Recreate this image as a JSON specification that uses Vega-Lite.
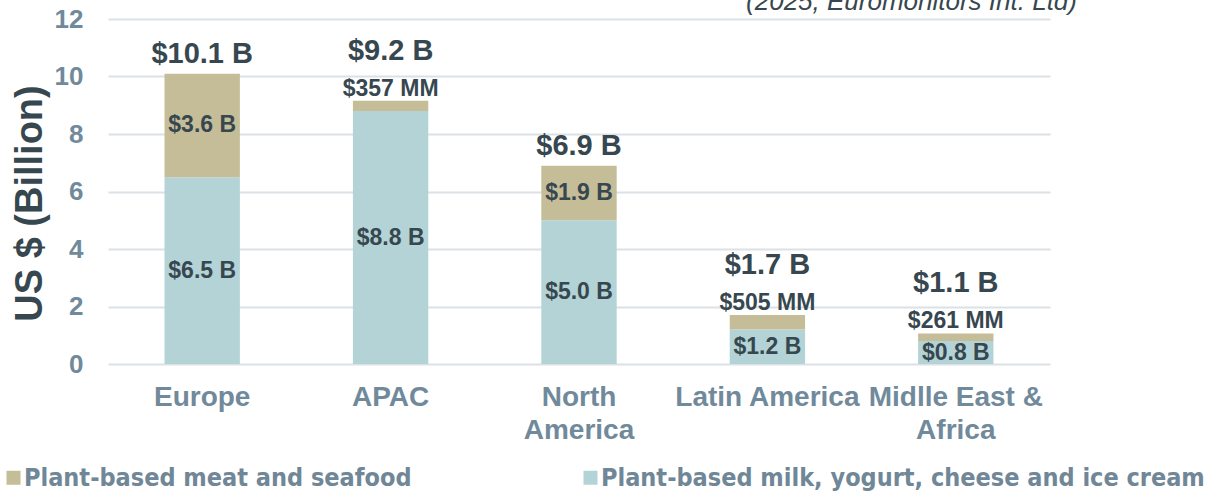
{
  "$schema": "https://vega.github.io/schema/vega-lite/v6.json",
  "autosize": {"type": "none"},
  "width": 942,
  "height": 345,
  "padding": {"left": 108, "top": 19, "right": 157, "bottom": 131},
  "background": "white",
  "title": {
    "text": "(2025, Euromonitors Int. Ltd)",
    "anchor": "end",
    "frame": "group",
    "orient": "top",
    "font": "Liberation Sans",
    "fontSize": 26,
    "fontStyle": "italic",
    "fontWeight": "normal",
    "color": "#37474F",
    "baseline": "alphabetic",
    "offset": 0,
    "dx": 27,
    "dy": 30
  },
  "data": {
    "values": [
      {"region": "Europe", "category": "Plant-based milk, yogurt, cheese and ice cream", "value": 6.5, "label": "$6.5 B", "total": "$10.1 B"},
      {"region": "Europe", "category": "Plant-based meat and seafood", "value": 3.6, "label": "$3.6 B", "total": "$10.1 B"},
      {"region": "APAC", "category": "Plant-based milk, yogurt, cheese and ice cream", "value": 8.8, "label": "$8.8 B", "total": "$9.2 B"},
      {"region": "APAC", "category": "Plant-based meat and seafood", "value": 0.357, "label": "$357 MM", "total": "$9.2 B"},
      {"region": "North America", "category": "Plant-based milk, yogurt, cheese and ice cream", "value": 5.0, "label": "$5.0 B", "total": "$6.9 B"},
      {"region": "North America", "category": "Plant-based meat and seafood", "value": 1.9, "label": "$1.9 B", "total": "$6.9 B"},
      {"region": "Latin America", "category": "Plant-based milk, yogurt, cheese and ice cream", "value": 1.2, "label": "$1.2 B", "total": "$1.7 B"},
      {"region": "Latin America", "category": "Plant-based meat and seafood", "value": 0.505, "label": "$505 MM", "total": "$1.7 B"},
      {"region": "Midlle East & Africa", "category": "Plant-based milk, yogurt, cheese and ice cream", "value": 0.8, "label": "$0.8 B", "total": "$1.1 B"},
      {"region": "Midlle East & Africa", "category": "Plant-based meat and seafood", "value": 0.261, "label": "$261 MM", "total": "$1.1 B"}
    ]
  },
  "encoding": {
    "x": {
      "field": "region",
      "type": "nominal",
      "sort": null,
      "scale": {"paddingInner": 0.6, "paddingOuter": 0.3},
      "axis": {
        "title": null,
        "labelAngle": 0,
        "domain": false,
        "ticks": false,
        "labelFont": "Liberation Sans",
        "labelFontSize": 28,
        "labelFontWeight": "bold",
        "labelColor": "#718A9B",
        "labelPadding": 19,
        "labelBaseline": "top",
        "labelLineHeight": 33,
        "labelLimit": 0,
        "labelExpr": "datum.label == 'North America' ? ['North', 'America'] : datum.label == 'Midlle East & Africa' ? ['Midlle East &', 'Africa'] : datum.label"
      }
    }
  },
  "layer": [
    {
      "mark": {"type": "bar"},
      "encoding": {
        "y": {
          "field": "value",
          "type": "quantitative",
          "aggregate": "sum",
          "stack": "zero",
          "scale": {"domain": [0, 12], "nice": false},
          "axis": {
            "title": "US $ (Billion)",
            "titleFont": "Liberation Sans",
            "titleFontSize": 38,
            "titleFontWeight": "bold",
            "titleColor": "#37474F",
            "titlePadding": 5,
            "titleY": 184,
            "values": [0, 2, 4, 6, 8, 10, 12],
            "domain": false,
            "ticks": false,
            "grid": true,
            "gridColor": "#DCE1E6",
            "gridWidth": 2,
            "labelFont": "Liberation Sans",
            "labelFontSize": 26,
            "labelFontWeight": "bold",
            "labelColor": "#718A9B",
            "labelPadding": 25
          }
        },
        "color": {
          "field": "category",
          "type": "nominal",
          "scale": {
            "domain": ["Plant-based meat and seafood", "Plant-based milk, yogurt, cheese and ice cream"],
            "range": ["#C5BD98", "#B3D3D6"]
          },
          "legend": {
            "title": null,
            "orient": "none",
            "direction": "horizontal",
            "legendX": -107,
            "legendY": 446,
            "symbolType": "square",
            "symbolSize": 196,
            "symbolStrokeWidth": 0,
            "labelFont": "'DejaVu Sans Condensed', 'Roboto Condensed', 'Liberation Sans', sans-serif",
            "labelFontSize": 25,
            "labelFontWeight": "bold",
            "labelColor": "#6F8797",
            "labelLimit": 0,
            "labelOffset": -2,
            "columnPadding": 166
          }
        },
        "order": {"field": "category", "sort": "descending"}
      }
    },
    {
      "transform": [
        {"stack": "value", "groupby": ["region"], "sort": [{"field": "category", "order": "descending"}], "as": ["y0", "y1"]},
        {"calculate": "(datum.y0 + datum.y1) / 2", "as": "ymid"},
        {"filter": "datum.value >= 0.6"}
      ],
      "mark": {"type": "text", "font": "Liberation Sans", "fontSize": 23, "fontWeight": "bold", "color": "#37474F", "baseline": "middle"},
      "encoding": {
        "y": {"field": "ymid", "type": "quantitative"},
        "text": {"field": "label"}
      }
    },
    {
      "transform": [
        {"stack": "value", "groupby": ["region"], "sort": [{"field": "category", "order": "descending"}], "as": ["y0", "y1"]},
        {"filter": "datum.value < 0.6"}
      ],
      "mark": {"type": "text", "font": "Liberation Sans", "fontSize": 23, "fontWeight": "bold", "color": "#37474F", "baseline": "alphabetic", "dy": -5},
      "encoding": {
        "y": {"field": "y1", "type": "quantitative"},
        "text": {"field": "label"}
      }
    },
    {
      "transform": [
        {"joinaggregate": [{"op": "sum", "field": "value", "as": "sumv"}], "groupby": ["region"]},
        {"filter": "datum.category == 'Plant-based meat and seafood' && datum.value >= 0.6"}
      ],
      "mark": {"type": "text", "font": "Liberation Sans", "fontSize": 29, "fontWeight": "bold", "color": "#37474F", "baseline": "alphabetic", "dy": -11},
      "encoding": {
        "y": {"field": "sumv", "type": "quantitative"},
        "text": {"field": "total"}
      }
    },
    {
      "transform": [
        {"joinaggregate": [{"op": "sum", "field": "value", "as": "sumv"}], "groupby": ["region"]},
        {"filter": "datum.category == 'Plant-based meat and seafood' && datum.value < 0.6"}
      ],
      "mark": {"type": "text", "font": "Liberation Sans", "fontSize": 29, "fontWeight": "bold", "color": "#37474F", "baseline": "alphabetic", "dy": -41},
      "encoding": {
        "y": {"field": "sumv", "type": "quantitative"},
        "text": {"field": "total"}
      }
    }
  ],
  "config": {
    "view": {"stroke": null},
    "bar": {"stroke": null}
  }
}
